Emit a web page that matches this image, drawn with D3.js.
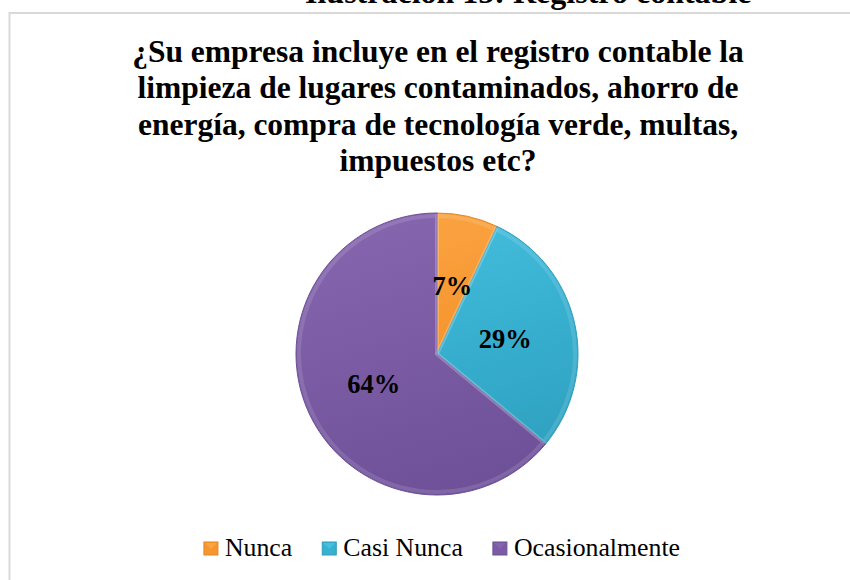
<!DOCTYPE html>
<html>
<head>
<meta charset="utf-8">
<script src="https://cdn.jsdelivr.net/npm/d3@7"></script>
<style>
  html, body { margin: 0; padding: 0; background: #ffffff; }
  svg { display: block; }
</style>
</head>
<body>
<svg id="chart" width="850" height="580"></svg>
<script>
// ---- data ----
const categories = ["Nunca", "Casi Nunca", "Ocasionalmente"];
const values = [7, 29, 64];
const labels = ["7%", "29%", "64%"];
const colors = ["#F6962F", "#38B0D0", "#7A5BA4"];
const lightColors = ["#FBA443", "#46C0E0", "#8565AE"];
const darkColors = ["#E5861F", "#2E9EBD", "#6D5098"];
const titleLines = [
  "¿Su empresa incluye en el registro contable la",
  "limpieza de lugares contaminados, ahorro de",
  "energía, compra de tecnología verde, multas,",
  "impuestos etc?"
];
const captionText = "Ilustración 15: Registro contable";

const svg = d3.select("#chart");
const defs = svg.append("defs");

// clipped caption from the document above the chart
svg.append("text")
  .attr("x", 305).attr("y", 2.5)
  .attr("font-family", "'Liberation Serif', 'Times New Roman', serif")
  .attr("font-weight", "bold")
  .attr("font-size", 32)
  .attr("fill", "#000")
  .text(captionText);

// chart area border
svg.append("rect")
  .attr("x", 9.5).attr("y", 13)
  .attr("width", 900).attr("height", 700)
  .attr("fill", "#fff")
  .attr("stroke", "#D9D9D9")
  .attr("stroke-width", 2);

// title
const title = svg.append("text")
  .attr("font-family", "'Liberation Serif', 'Times New Roman', serif")
  .attr("font-weight", "bold")
  .attr("font-size", 31.5)
  .attr("text-anchor", "middle")
  .attr("fill", "#000");
titleLines.forEach((t, i) => {
  title.append("tspan")
    .attr("x", 438)
    .attr("y", 62 + i * 36.3)
    .text(t);
});

// pie
const cx = 437, cy = 354, R = 141;
const pie = d3.pie().sort(null).value(d => d)(values);
const arc = d3.arc().innerRadius(0).outerRadius(R);
const labelArc = d3.arc().innerRadius(70).outerRadius(70);

categories.forEach((c, i) => {
  const g = defs.append("linearGradient")
    .attr("id", "grad" + i)
    .attr("gradientUnits", "userSpaceOnUse")
    .attr("x1", -40).attr("y1", -R).attr("x2", 40).attr("y2", R);
  g.append("stop").attr("offset", "0%").attr("stop-color", lightColors[i]);
  g.append("stop").attr("offset", "45%").attr("stop-color", colors[i]);
  g.append("stop").attr("offset", "100%").attr("stop-color", darkColors[i]);
});

const pg = svg.append("g").attr("transform", `translate(${cx},${cy})`);

pg.selectAll("path.slice")
  .data(pie)
  .join("path")
  .attr("class", "slice")
  .attr("d", arc)
  .attr("fill", (d, i) => `url(#grad${i})`)
  .attr("stroke", (d, i) => darkColors[i])
  .attr("stroke-width", 1);

// subtle bevel highlight inside each slice
const bevelArc = d3.arc().innerRadius(0).outerRadius(R - 3);
pg.selectAll("path.bevel")
  .data(pie)
  .join("path")
  .attr("class", "bevel")
  .attr("d", bevelArc)
  .attr("fill", "none")
  .attr("stroke", "#ffffff")
  .attr("stroke-opacity", 0.12)
  .attr("stroke-width", 4);

pg.selectAll("text.lbl")
  .data(pie)
  .join("text")
  .attr("class", "lbl")
  .attr("transform", d => {
    const [x, y] = labelArc.centroid(d);
    return `translate(${x},${y})`;
  })
  .attr("dy", "0.34em")
  .attr("text-anchor", "middle")
  .attr("font-family", "'Liberation Serif', 'Times New Roman', serif")
  .attr("font-weight", "bold")
  .attr("font-size", 26.5)
  .attr("fill", "#000")
  .text((d, i) => labels[i]);

// legend
const legend = svg.append("g");
let xPos = 0;
categories.forEach((c, i) => {
  const it = legend.append("g");
  it.append("rect")
    .attr("x", 0).attr("y", -14)
    .attr("width", 14).attr("height", 13)
    .attr("fill", colors[i])
    .attr("stroke", darkColors[i])
    .attr("stroke-width", 1);
  it.append("path")
    .attr("d", "M1,-13 L13,-13 L7,-7 Z")
    .attr("fill", lightColors[i]);
  const t = it.append("text")
    .attr("x", 21).attr("y", 0)
    .attr("font-family", "'Liberation Serif', 'Times New Roman', serif")
    .attr("font-size", 25.8)
    .attr("fill", "#000")
    .text(c);
  const w = 21 + t.node().getComputedTextLength();
  it.attr("transform", `translate(${xPos},0)`);
  xPos += w + 30;
});
const totalW = xPos - 30;
legend.attr("transform", `translate(${442 - totalW / 2},556)`);
</script>
</body>
</html>
